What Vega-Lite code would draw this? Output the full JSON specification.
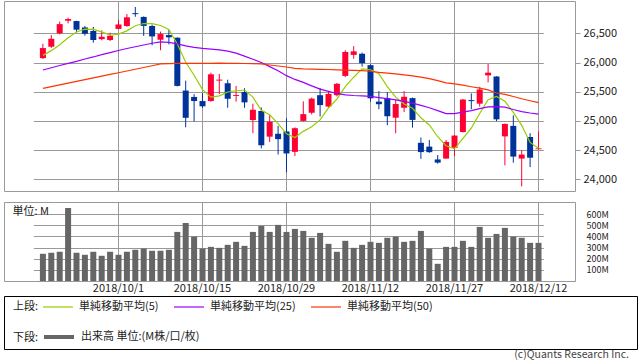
{
  "$schema": "https://vega.github.io/schema/vega-lite/v6.json",
  "padding": {"left": 3, "top": 0, "right": 0, "bottom": 0},
  "background": "white",
  "config": {
    "font": "Noto Sans CJK JP",
    "view": {"stroke": "#999999"},
    "axis": {"labelFontSize": 11, "labelColor": "#222222", "gridColor": "#999999", "gridOpacity": 1, "gridWidth": 1, "domain": false, "labelOverlap": false},
    "axisY": {"labelOverlap": false},
    "axisQuantitative": {"labelOverlap": false}
  },
  "datasets": {
    "px": [
      {"d":"2018/9/18","o":26075,"h":26320,"l":26060,"c":26247,"v":244,"ma5":26122,"ma25":25872,"ma50":25558},
      {"d":"2018/9/19","o":26270,"h":26470,"l":26250,"c":26406,"v":253,"ma5":26203,"ma25":25910,"ma50":25588},
      {"d":"2018/9/20","o":26500,"h":26700,"l":26480,"c":26657,"v":262,"ma5":26305,"ma25":25948,"ma50":25618},
      {"d":"2018/9/21","o":26715,"h":26769,"l":26670,"c":26744,"v":654,"ma5":26423,"ma25":25985,"ma50":25648},
      {"d":"2018/9/24","o":26710,"h":26715,"l":26520,"c":26562,"v":253,"ma5":26523,"ma25":26020,"ma50":25678},
      {"d":"2018/9/25","o":26600,"h":26625,"l":26460,"c":26492,"v":235,"ma5":26572,"ma25":26060,"ma50":25708},
      {"d":"2018/9/26","o":26540,"h":26610,"l":26340,"c":26385,"v":262,"ma5":26568,"ma25":26095,"ma50":25738},
      {"d":"2018/9/27","o":26400,"h":26550,"l":26380,"c":26440,"v":226,"ma5":26525,"ma25":26135,"ma50":25768},
      {"d":"2018/9/28","o":26385,"h":26510,"l":26368,"c":26458,"v":262,"ma5":26467,"ma25":26170,"ma50":25797},
      {"d":"2018/10/1","o":26575,"h":26730,"l":26570,"c":26651,"v":235,"ma5":26485,"ma25":26205,"ma50":25825},
      {"d":"2018/10/2","o":26625,"h":26830,"l":26610,"c":26774,"v":262,"ma5":26542,"ma25":26240,"ma50":25855},
      {"d":"2018/10/3","o":26845,"h":26951,"l":26783,"c":26828,"v":280,"ma5":26630,"ma25":26270,"ma50":25885},
      {"d":"2018/10/4","o":26780,"h":26790,"l":26455,"c":26627,"v":291,"ma5":26668,"ma25":26300,"ma50":25915},
      {"d":"2018/10/5","o":26625,"h":26650,"l":26295,"c":26447,"v":271,"ma5":26665,"ma25":26330,"ma50":25945},
      {"d":"2018/10/8","o":26390,"h":26530,"l":26210,"c":26487,"v":271,"ma5":26633,"ma25":26352,"ma50":25975},
      {"d":"2018/10/9","o":26470,"h":26555,"l":26310,"c":26431,"v":280,"ma5":26564,"ma25":26345,"ma50":25982},
      {"d":"2018/10/10","o":26425,"h":26430,"l":25590,"c":25599,"v":440,"ma5":26318,"ma25":26320,"ma50":25984},
      {"d":"2018/10/11","o":25520,"h":25690,"l":24890,"c":25053,"v":520,"ma5":26003,"ma25":26285,"ma50":25986},
      {"d":"2018/10/12","o":25410,"h":25458,"l":24990,"c":25340,"v":398,"ma5":25782,"ma25":26260,"ma50":25985},
      {"d":"2018/10/15","o":25340,"h":25475,"l":25225,"c":25250,"v":291,"ma5":25535,"ma25":26243,"ma50":25984},
      {"d":"2018/10/16","o":25340,"h":25826,"l":25330,"c":25798,"v":306,"ma5":25408,"ma25":26230,"ma50":25986},
      {"d":"2018/10/17","o":25690,"h":25805,"l":25460,"c":25707,"v":297,"ma5":25430,"ma25":26215,"ma50":25988},
      {"d":"2018/10/18","o":25645,"h":25705,"l":25225,"c":25379,"v":324,"ma5":25495,"ma25":26195,"ma50":25986},
      {"d":"2018/10/19","o":25428,"h":25600,"l":25330,"c":25444,"v":351,"ma5":25516,"ma25":26160,"ma50":25984},
      {"d":"2018/10/22","o":25495,"h":25560,"l":25225,"c":25317,"v":315,"ma5":25529,"ma25":26110,"ma50":25983},
      {"d":"2018/10/23","o":25015,"h":25295,"l":24790,"c":25191,"v":440,"ma5":25408,"ma25":26055,"ma50":25980},
      {"d":"2018/10/24","o":25170,"h":25230,"l":24530,"c":24583,"v":494,"ma5":25183,"ma25":26000,"ma50":25975},
      {"d":"2018/10/25","o":24730,"h":25100,"l":24640,"c":24985,"v":440,"ma5":25104,"ma25":25930,"ma50":25957},
      {"d":"2018/10/26","o":24780,"h":24915,"l":24425,"c":24688,"v":503,"ma5":24953,"ma25":25860,"ma50":25940},
      {"d":"2018/10/29","o":24820,"h":25045,"l":24120,"c":24443,"v":440,"ma5":24778,"ma25":25775,"ma50":25923},
      {"d":"2018/10/30","o":24470,"h":24890,"l":24400,"c":24875,"v":467,"ma5":24715,"ma25":25710,"ma50":25900},
      {"d":"2018/10/31","o":25000,"h":25335,"l":24990,"c":25116,"v":449,"ma5":24821,"ma25":25660,"ma50":25892},
      {"d":"2018/11/1","o":25140,"h":25400,"l":25110,"c":25381,"v":387,"ma5":24901,"ma25":25600,"ma50":25888},
      {"d":"2018/11/2","o":25440,"h":25565,"l":25075,"c":25271,"v":431,"ma5":25017,"ma25":25545,"ma50":25884},
      {"d":"2018/11/5","o":25245,"h":25515,"l":25235,"c":25462,"v":333,"ma5":25221,"ma25":25505,"ma50":25880},
      {"d":"2018/11/6","o":25440,"h":25650,"l":25420,"c":25635,"v":262,"ma5":25373,"ma25":25470,"ma50":25875},
      {"d":"2018/11/7","o":25770,"h":26210,"l":25750,"c":26180,"v":360,"ma5":25586,"ma25":25446,"ma50":25870},
      {"d":"2018/11/8","o":26130,"h":26280,"l":26065,"c":26191,"v":297,"ma5":25748,"ma25":25435,"ma50":25866},
      {"d":"2018/11/9","o":26150,"h":26170,"l":25930,"c":25989,"v":324,"ma5":25891,"ma25":25428,"ma50":25861},
      {"d":"2018/11/12","o":25955,"h":25970,"l":25330,"c":25387,"v":351,"ma5":25876,"ma25":25420,"ma50":25850},
      {"d":"2018/11/13","o":25330,"h":25510,"l":25200,"c":25286,"v":342,"ma5":25807,"ma25":25400,"ma50":25830},
      {"d":"2018/11/14","o":25390,"h":25495,"l":24925,"c":25080,"v":387,"ma5":25587,"ma25":25380,"ma50":25818},
      {"d":"2018/11/15","o":25055,"h":25360,"l":24790,"c":25289,"v":398,"ma5":25406,"ma25":25360,"ma50":25805},
      {"d":"2018/11/16","o":25225,"h":25510,"l":25150,"c":25413,"v":351,"ma5":25291,"ma25":25335,"ma50":25788},
      {"d":"2018/11/19","o":25390,"h":25400,"l":24885,"c":25017,"v":360,"ma5":25217,"ma25":25305,"ma50":25772},
      {"d":"2018/11/20","o":24625,"h":24715,"l":24350,"c":24466,"v":449,"ma5":25053,"ma25":25265,"ma50":25750},
      {"d":"2018/11/21","o":24560,"h":24675,"l":24455,"c":24465,"v":291,"ma5":24930,"ma25":25225,"ma50":25725},
      {"d":"2018/11/23","o":24340,"h":24415,"l":24268,"c":24286,"v":154,"ma5":24729,"ma25":25175,"ma50":25690},
      {"d":"2018/11/26","o":24355,"h":24673,"l":24350,"c":24640,"v":306,"ma5":24575,"ma25":25125,"ma50":25650},
      {"d":"2018/11/27","o":24540,"h":24760,"l":24400,"c":24749,"v":306,"ma5":24521,"ma25":25125,"ma50":25633},
      {"d":"2018/11/28","o":24810,"h":25375,"l":24800,"c":25366,"v":360,"ma5":24701,"ma25":25150,"ma50":25612},
      {"d":"2018/11/29","o":25356,"h":25470,"l":25200,"c":25339,"v":306,"ma5":24876,"ma25":25175,"ma50":25585},
      {"d":"2018/11/30","o":25295,"h":25585,"l":25245,"c":25538,"v":485,"ma5":25126,"ma25":25210,"ma50":25560},
      {"d":"2018/12/3","o":25780,"h":25975,"l":25660,"c":25826,"v":387,"ma5":25364,"ma25":25240,"ma50":25532},
      {"d":"2018/12/4","o":25760,"h":25765,"l":24995,"c":25027,"v":422,"ma5":25419,"ma25":25245,"ma50":25478},
      {"d":"2018/12/6","o":24735,"h":24955,"l":24240,"c":24948,"v":476,"ma5":25336,"ma25":25235,"ma50":25455},
      {"d":"2018/12/7","o":24915,"h":25095,"l":24285,"c":24389,"v":398,"ma5":25146,"ma25":25195,"ma50":25418},
      {"d":"2018/12/10","o":24355,"h":24500,"l":23880,"c":24423,"v":387,"ma5":24923,"ma25":25160,"ma50":25380},
      {"d":"2018/12/11","o":24725,"h":24790,"l":24210,"c":24370,"v":342,"ma5":24631,"ma25":25135,"ma50":25345},
      {"d":"2018/12/12","o":24515,"h":24820,"l":24510,"c":24530,"v":342,"ma5":24532,"ma25":25115,"ma50":25312}
    ]
  },
  "resolve": {"scale": {"color": "shared", "fill": "shared"}, "legend": {"color": "shared", "fill": "shared"}},
  "spacing": 1,
  "vconcat": [
    {
      "spacing": 9,
      "resolve": {"scale": {"color": "shared", "fill": "shared"}, "legend": {"color": "shared", "fill": "shared"}},
      "vconcat": [
        {
          "width": 571,
          "height": 190,
          "data": {"name": "px"},
          "encoding": {
            "x": {
              "field": "d", "type": "ordinal", "sort": null,
              "scale": {"type": "band", "paddingInner": 0.286, "paddingOuter": 0.5, "range": [31.7, 541.7]},
              "axis": {"values": ["2018/10/1","2018/10/15","2018/10/29","2018/11/12","2018/11/27","2018/12/12"], "labels": false, "ticks": false, "domain": false, "grid": true, "title": null}
            },
            "y": {
              "field": "l", "type": "quantitative",
              "scale": {"domain": [23800, 27053], "nice": false, "zero": false},
              "axis": {"orient": "right", "values": [24000,24500,25000,25500,26000,26500], "format": ",d", "labelOverlap": false, "grid": true, "ticks": true, "tickSize": 5, "tickColor": "#999999", "labelPadding": 3, "domain": false, "title": null}
            }
          },
          "layer": [
            {
              "mark": {"type": "rule", "strokeWidth": 1},
              "encoding": {
                "y2": {"field": "h"},
                "color": {"condition": {"test": "datum.c >= datum.o", "value": "#FF0033"}, "value": "#003399"}
              }
            },
            {
              "mark": {"type": "bar"},
              "encoding": {
                "y": {"field": "o", "type": "quantitative"},
                "y2": {"field": "c"},
                "color": {"condition": {"test": "datum.c >= datum.o", "value": "#FF0033"}, "value": "#003399"}
              }
            },
            {
              "mark": {"type": "line", "strokeWidth": 1.2},
              "encoding": {
                "y": {"field": "ma5", "type": "quantitative"},
                "color": {
                  "datum": "単純移動平均(5)",
                  "scale": {"domain": ["単純移動平均(5)", "単純移動平均(25)", "単純移動平均(50)"], "range": ["#99CC00", "#9900FF", "#FF3300"]},
                  "legend": {
                    "title": "上段:", "orient": "none", "legendX": 9, "legendY": 290, "direction": "horizontal",
                    "titleOrient": "left", "titleAnchor": "middle", "titleBaseline": "middle",
                    "symbolType": "stroke", "symbolSize": 900, "symbolStrokeWidth": 1.2,
                    "labelOffset": 5, "columnPadding": 12, "labelFontSize": 11, "titleFontSize": 11,
                    "titleFontWeight": "normal", "titlePadding": 3, "labelColor": "#222222", "titleColor": "#222222",
                    "padding": 0, "labelLimit": 300,
                    "encode": {"title": {"update": {"dy": {"value": 5}}}}
                  }
                }
              }
            },
            {
              "mark": {"type": "line", "strokeWidth": 1.2},
              "encoding": {
                "y": {"field": "ma25", "type": "quantitative"},
                "color": {"datum": "単純移動平均(25)"}
              }
            },
            {
              "mark": {"type": "line", "strokeWidth": 1.2},
              "encoding": {
                "y": {"field": "ma50", "type": "quantitative"},
                "color": {"datum": "単純移動平均(50)"}
              }
            }
          ]
        },
        {
          "width": 571,
          "height": 79,
          "data": {"name": "px"},
          "mark": {"type": "bar"},
          "encoding": {
            "x": {
              "field": "d", "type": "ordinal", "sort": null,
              "scale": {"type": "band", "paddingInner": 0.286, "paddingOuter": 0.5, "range": [31.7, 541.7]},
              "axis": {"values": ["2018/10/1","2018/10/15","2018/10/29","2018/11/12","2018/11/27","2018/12/12"], "labels": true, "labelAngle": 0, "labelOverlap": false, "ticks": false, "tickSize": 0, "labelPadding": 1, "domain": false, "grid": true, "title": null}
            },
            "y": {
              "field": "v", "type": "quantitative",
              "scale": {"domain": [0, 708], "nice": false},
              "axis": {
                "orient": "right", "values": [100,200,300,400,500,600], "labelExpr": "datum.value + 'M'",
                "labelFontSize": 9, "labelOverlap": false,
                "grid": true, "ticks": false, "tickSize": 0, "labelPadding": 11, "domain": false,
                "title": "単位: M", "titleAngle": 0, "titleX": -563, "titleY": 9, "titleAlign": "left",
                "titleBaseline": "middle", "titleFontSize": 11, "titleFontWeight": "normal", "titleColor": "#222222"
              }
            },
            "fill": {
              "datum": "出来高 単位:(M株/口/枚)",
              "scale": {"range": ["#666666"]},
              "legend": {
                "title": "下段:", "orient": "none", "legendX": 9, "legendY": 319, "direction": "horizontal",
                "titleOrient": "left", "titleAnchor": "middle", "titleBaseline": "middle",
                "symbolType": "stroke", "symbolSize": 900, "symbolStrokeWidth": 4,
                "symbolStrokeColor": "#666666",
                "labelOffset": 5, "labelFontSize": 11, "titleFontSize": 11,
                "titleFontWeight": "normal", "titlePadding": 3, "labelColor": "#222222", "titleColor": "#222222",
                "padding": 0, "labelLimit": 300,
                "encode": {"symbols": {"update": {"stroke": {"value": "#666666"}, "strokeWidth": {"value": 4}}}, "title": {"update": {"dy": {"value": 5}}}}
              }
            }
          }
        }
      ]
    },
    {
      "width": 633,
      "height": 53,
      "view": {"stroke": "#000000", "strokeWidth": 1},
      "data": {"values": [{"k": 0}]},
      "mark": {"type": "point", "opacity": 0},
      "title": {"text": "(c)Quants Research Inc.", "orient": "bottom", "anchor": "end", "fontSize": 10.5, "fontWeight": "normal", "color": "#444444", "offset": 1, "dx": -8}
    }
  ]
}
